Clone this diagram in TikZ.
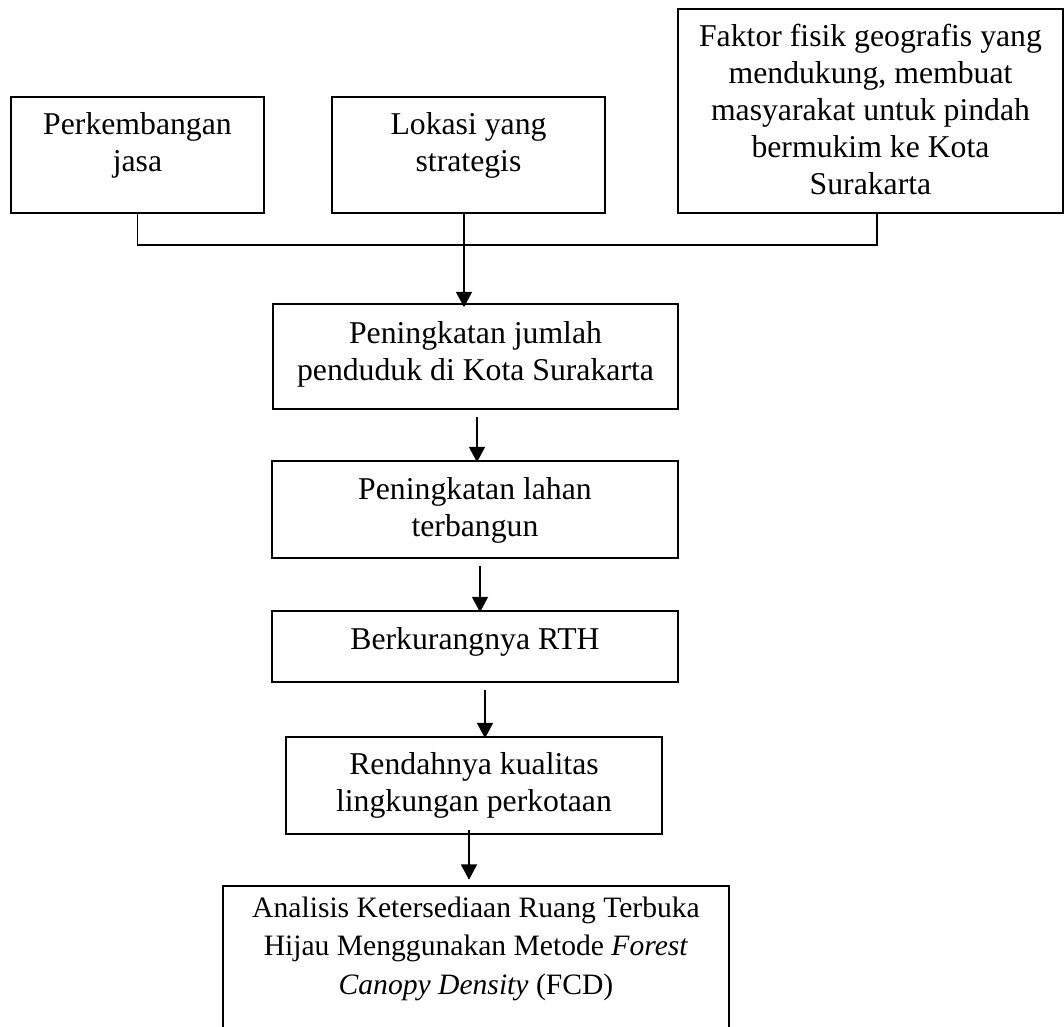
\documentclass[tikz,border=0pt]{standalone}
\usepackage{fontspec}
\setmainfont{Liberation Serif}
\usetikzlibrary{arrows.meta,calc,fit}
\begin{document}
\begin{tikzpicture}[x=0.75pt,y=-0.75pt,
  line/.style={line width=1.2pt,draw=black},
  box/.style={line, inner sep=0pt, rectangle},
  openbox/.style={inner sep=0pt, rectangle},
  txt/.style={font=\fontsize{23.8}{27.8}\selectfont, align=center, inner sep=0pt, anchor=north},
  smalltxt/.style={txt, font=\fontsize{22.2}{29}\selectfont},
  arr/.style={line, -{Triangle[length=11.5pt,width=12pt]}}]
\useasboundingbox (0,0) rectangle (1064,1027);
% boxes
\node[box, fit={(11,97) (264,213)}] (b1) {};
\node[box, fit={(332,97) (605,213)}] (b2) {};
\node[box, fit={(678,9) (1063,213)}] (b3) {};
\node[box, fit={(273,304) (678,409)}] (b4) {};
\node[box, fit={(272,461) (678,558)}] (b5) {};
\node[box, fit={(272,611) (678,682)}] (b6) {};
\node[box, fit={(286,737) (662,834)}] (b7) {};
\node[openbox, fit={(223,886) (729,1027)}] (b8) {};
\draw[line] (b8.south west) |- (b8.north east) -- (b8.south east);
% texts
\node[txt] (t1) at ($(b1.north)+(0,12)$) {\strut Perkembangan\\jasa};
\node[txt] (t2) at ($(b2.north)+(0,12)$) {\strut Lokasi yang\\strategis};
\node[txt] (t3) at ($(b3.north)+(0,12)$) {\strut Faktor fisik geografis yang\\mendukung, membuat\\masyarakat untuk pindah\\bermukim ke Kota\\Surakarta};
\node[txt] (t4) at ($(b4.north)+(0,14)$) {\strut Peningkatan jumlah\\penduduk di Kota Surakarta};
\node[txt] (t5) at ($(b5.north)+(0,13)$) {\strut Peningkatan lahan\\terbangun};
\node[txt] (t6) at ($(b6.north)+(0,13)$) {\strut Berkurangnya RTH};
\node[txt] (t7) at ($(b7.north)+(0,12)$) {\strut Rendahnya kualitas\\lingkungan perkotaan};
\node[smalltxt] (t8) at ($(b8.north)+(0,4)$) {\strut Analisis Ketersediaan Ruang Terbuka\\Hijau Menggunakan Metode \textit{Forest}\\\textit{Canopy Density} (FCD)};
% connectors
\draw[line] (b1.south) |- ($(b3.south)+(6.5,31)$) -- ($(b3.south)+(6.5,0)$);
\draw[arr] ($(b2.south)+(-4.5,0)$) -- ($(b4.north)+(-11.5,4)$);
\draw[arr] ($(b4.south)+(1.5,7)$) -- ($(b5.north)+(2,2)$);
\draw[arr] ($(b5.south)+(5,7)$) -- ($(b6.north)+(5,2)$);
\draw[arr] ($(b6.south)+(10,7)$) -- ($(b7.north)+(11,2)$);
\draw[arr] ($(b7.south)+(-5,-5)$) -- ($(b8.north)+(-7,-6)$);
\end{tikzpicture}
\end{document}
